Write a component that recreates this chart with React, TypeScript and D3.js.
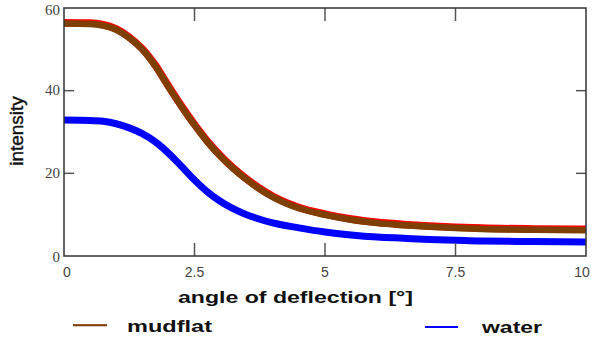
import React from "react";
import * as d3 from "d3";

const angles = [0, 0.5, 0.75, 1.0, 1.25, 1.5, 1.75, 2.0, 2.25, 2.5, 2.75, 3.0, 3.25, 3.5, 3.75, 4.0, 4.5, 5.0, 5.5, 6.0, 6.5, 7.0, 7.5, 8.0, 9.0, 10];
const mudflat = [56.3, 56.2, 55.8, 54.8, 52.8, 50.0, 46.0, 41.0, 36.2, 31.7, 27.6, 24.1, 21.1, 18.5, 16.2, 14.3, 11.6, 10.0, 8.8, 8.0, 7.5, 7.1, 6.8, 6.6, 6.4, 6.3];
const water = [32.9, 32.8, 32.6, 32.0, 31.0, 29.6, 27.6, 24.9, 21.7, 18.4, 15.5, 13.2, 11.4, 10.0, 8.9, 8.0, 6.8, 5.8, 5.1, 4.6, 4.3, 4.0, 3.8, 3.6, 3.5, 3.4];
const xTicks = [0, 2.5, 5, 7.5, 10];
const yTicks = [0, 20, 40, 60];
const seriesNames = ["mudflat", "water"];

export default function App() {
  const W = 594, H = 338;
  const L = 64, R = 586, T = 8, B = 256;
  const x = d3.scaleLinear().domain([0, 10]).range([L, R]);
  const y = d3.scaleLinear().domain([0, 60]).range([B, T]);
  const pts = (vals: number[]) => angles.map((a, i) => [a, vals[i]] as [number, number]);
  const line = d3.line<[number, number]>().x(d => x(d[0])).y(d => y(d[1])).curve(d3.curveMonotoneX);
  const mud = line(pts(mudflat)) || "";
  const wat = line(pts(water)) || "";
  const tickCol = "#555";
  const boldFont = "'Liberation Sans', Arial, sans-serif";
  return (
    <svg width={W} height={H} style={{ position: "absolute", left: 0, top: 0, background: "#fff" }}>
      <defs>
        <clipPath id="pc"><rect x={L} y={T} width={R - L} height={B - T} /></clipPath>
      </defs>
      <g clipPath="url(#pc)">
        <path d={mud} fill="none" stroke="#ff0000" strokeWidth={7.5} transform="translate(0,-0.6)" />
        <path d={mud} fill="none" stroke="#7f3f00" strokeWidth={6.5} transform="translate(0,0.2)" />
        <path d={wat} fill="none" stroke="#0000ff" strokeWidth={7} />
      </g>
      {xTicks.filter(t => t > 0 && t < 10).map(t => (
        <g key={"xt" + t}>
          <line x1={x(t)} x2={x(t)} y1={B} y2={B - 13} stroke={tickCol} strokeWidth={1.5} />
          <line x1={x(t)} x2={x(t)} y1={T} y2={T + 13} stroke={tickCol} strokeWidth={1.5} />
        </g>
      ))}
      {yTicks.filter(t => t > 0 && t < 60).map(t => (
        <g key={"yt" + t}>
          <line x1={L} x2={L + 10} y1={y(t)} y2={y(t)} stroke={tickCol} strokeWidth={1.5} />
          <line x1={R} x2={R - 10} y1={y(t)} y2={y(t)} stroke={tickCol} strokeWidth={1.5} />
        </g>
      ))}
      <rect x={L} y={T} width={R - L} height={B - T} fill="none" stroke="#333" strokeWidth={1.5} />
      {yTicks.map(t => (
        <text key={"yl" + t} x={L - 4} y={y(t) + (t === 60 ? 4 : t === 0 ? 3 : 1)} textAnchor="end" dominantBaseline="middle"
          fontFamily="'Liberation Serif', 'DejaVu Serif', serif" fontSize={15} fill="#444">{t}</text>
      ))}
      {xTicks.map(t => (
        <text key={"xl" + t} x={x(t) + (t === 0 ? 3 : t === 10 ? -4 : 0)} y={B + 17} textAnchor="middle" dominantBaseline="middle"
          fontFamily="'Liberation Sans Narrow', 'Arial Narrow', 'Liberation Sans', sans-serif" fontSize={14} fill="#444">{t}</text>
      ))}
      <text x={178} y={303} textLength={235} lengthAdjust="spacingAndGlyphs" fontFamily={boldFont} fontWeight="bold" fontSize={17}
        fill="#111">angle of deflection [°]</text>
      <text transform={`translate(23,131) rotate(-90)`} textAnchor="middle" fontFamily="'Liberation Sans', Arial, sans-serif"
        fontSize={19} fill="#111" stroke="#111" strokeWidth={0.4}>intensity</text>
      <line x1={73} x2={107} y1={325} y2={325} stroke="#a0522d" strokeWidth={2.2} />
      <line x1={73} x2={107} y1={325.6} y2={325.6} stroke="#7f3f00" strokeWidth={1.2} />
      <text x={127} y={331.5} textLength={85} lengthAdjust="spacingAndGlyphs" fontFamily={boldFont} fontWeight="bold" fontSize={17} fill="#111">{seriesNames[0]}</text>
      <line x1={425} x2={458} y1={327} y2={327} stroke="#0000ff" strokeWidth={2.2} />
      <text x={482} y={333} textLength={60} lengthAdjust="spacingAndGlyphs" fontFamily={boldFont} fontWeight="bold" fontSize={17} fill="#111">{seriesNames[1]}</text>
    </svg>
  );
}
